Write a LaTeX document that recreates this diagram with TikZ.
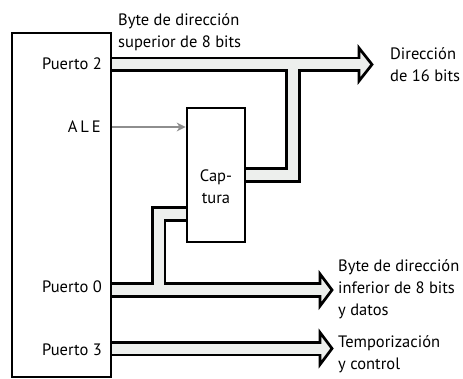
\documentclass[tikz,border=0pt]{standalone}
\usepackage{fontspec}
\setmainfont{PT Sans}
\usetikzlibrary{arrows.meta}
\definecolor{busgray}{HTML}{EDEFED}
\definecolor{alegray}{HTML}{8E8E8E}
\tikzset{
  lbl/.style={inner sep=0pt, font=\fontsize{16.5}{22}\selectfont},
  busout/.style={line width=15.5pt, black, line join=miter},
  busin/.style={line width=10pt, busgray, line join=miter},
  head/.style={fill=busgray, draw=black, line width=2.7pt, line join=miter},
  blk/.style={draw=black, line width=2.7pt},
}
\begin{document}
\begin{tikzpicture}[x=1pt,y=-1pt]
\useasboundingbox (0,0) rectangle (463,379);
% coordinates
\coordinate (p2s) at (111,64.5);
\coordinate (p2e) at (359,64.5);
\coordinate (p2x) at (360.5,64.5);
\coordinate (p0s) at (111,290);
\coordinate (p0e) at (320,290);
\coordinate (p0x) at (321.5,290);
\coordinate (p3s) at (111,348.5);
\coordinate (p3e) at (320,348.5);
\coordinate (p3x) at (321.5,348.5);
\coordinate (cr) at (245,175);
\coordinate (ub) at (293,175);
\coordinate (ut) at (293,64.5);
\coordinate (cl) at (187,214);
\coordinate (lb) at (158.5,214);
\coordinate (lt) at (158.5,290);
% outer black bus lines
\draw[busout] (p2s) -- (p2e);
\draw[busout] (p0s) -- (p0e);
\draw[busout] (p3s) -- (p3e);
\draw[busout] (cr) -- (ub) -- (ut);
\draw[busout] (cl) -- (lb) -- (lt);
% arrow heads
\draw[head] (359,48) -- (372,64.5) -- (359,81) -- cycle;
\draw[head] (320,274) -- (332,290) -- (320,306) -- cycle;
\draw[head] (320,332.5) -- (332,348.5) -- (320,364.5) -- cycle;
% inner gray bus lines
\draw[busin] (p2s) -- (p2x);
\draw[busin] (p0s) -- (p0x);
\draw[busin] (p3s) -- (p3x);
\draw[busin] (cr) -- (ub) -- (ut);
\draw[busin] (cl) -- (lb) -- (lt);
% boxes
\node[blk, minimum width=99pt, minimum height=344pt, inner sep=0pt] (cpu) at (61.5,205) {};
\node[blk, fill=white, minimum width=58pt, minimum height=134pt, inner sep=0pt] (cap) at (216,175) {};
% ALE arrow
\node[lbl, anchor=east] (ale) at (101,127) {A\kern3pt L\kern3pt E};
\draw[alegray, line width=2pt, -{Stealth[length=9pt,width=9pt]}] (cpu.east |- ale) -- (cap.west |- ale);
% labels
\node[lbl, anchor=base east] (lp2) at (102,70) {Puerto 2};
\node[lbl, anchor=base east] (lp0) at (102,293) {Puerto 0};
\node[lbl, anchor=base east] (lp3) at (102,355) {Puerto 3};
\node[lbl, align=center, anchor=north] (capt) at (216,170) {Cap-\\tura};
\node[lbl, align=left, anchor=north west] (tsup) at (118,13.5) {Byte de dirección\\superior de 8 bits};
\node[lbl, align=left, anchor=north west] (t16) at (390,47) {Dirección\\de 16 bits};
\node[lbl, align=left, anchor=north west] (tinf) at (338,259.5) {Byte de dirección\\inferior de 8 bits\\y datos};
\node[lbl, align=left, anchor=north west] (ttmp) at (338,335.5) {Temporización\\y control};
\end{tikzpicture}
\end{document}
